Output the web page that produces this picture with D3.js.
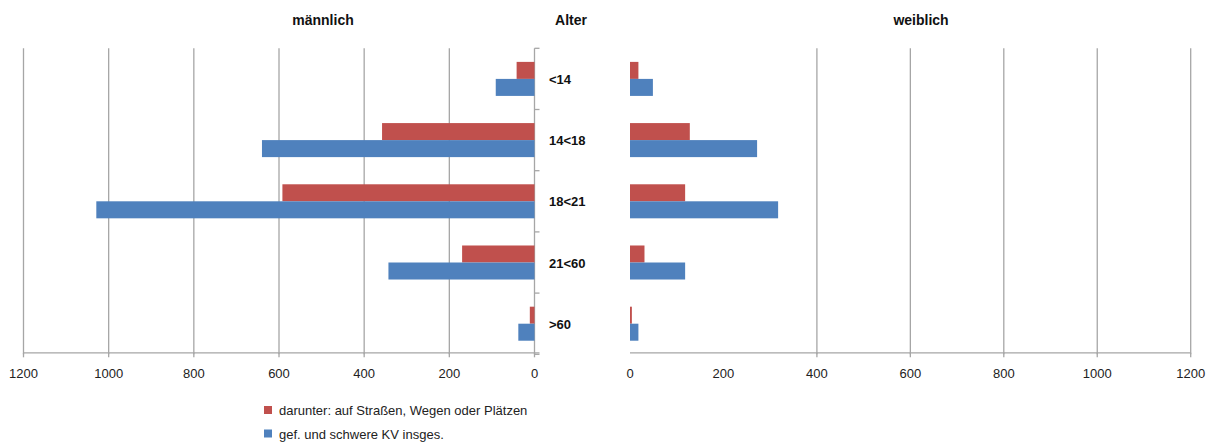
<!DOCTYPE html>
<html><head><meta charset="utf-8">
<script src="https://cdn.jsdelivr.net/npm/d3@7"></script>
<style>body{margin:0;background:#fff}svg{display:block;font-family:"Liberation Sans",Arial,sans-serif}</style>
</head><body><svg id="c" width="1214" height="443"></svg>
<script>
const categories = ["<14", "14<18", "18<21", "21<60", ">60"];
const seriesNames = ["darunter: auf Straßen, Wegen oder Plätzen", "gef. und schwere KV insges."];
const maleStreet = [42, 358, 592, 170, 11];
const maleTotal = [91, 640, 1029, 343, 38];
const femaleStreet = [18, 128, 118, 31, 4];
const femaleTotal = [49, 272, 317, 118, 18];
const tickValues = [0, 200, 400, 600, 800, 1000, 1200];
const colors = ["#C0504D", "#4F81BD"];

(function () {
const svg = d3.select("#c");
const plotTop = 48.3, plotBottom = 354.3;
const y = d3.scaleBand().domain(categories).range([plotTop, plotBottom]).paddingInner(0.444).paddingOuter(0.222);
const sub = d3.scaleBand().domain([0, 1]).range([0, y.bandwidth()]);
const xL = d3.scaleLinear().domain([1200, 0]).range([23.5, 534.5]);
const xR = d3.scaleLinear().domain([0, 1200]).range([630, 1190.7]);
const grid = "#a6a6a6";

// gridlines
svg.append("g").selectAll("line").data(tickValues.filter(v => v > 0)).join("line")
  .attr("x1", d => xL(d)).attr("x2", d => xL(d)).attr("y1", plotTop).attr("y2", plotBottom)
  .attr("stroke", grid).attr("stroke-width", 1.3);
svg.append("g").selectAll("line").data(tickValues.filter(v => v >= 400)).join("line")
  .attr("x1", d => xR(d)).attr("x2", d => xR(d)).attr("y1", plotTop).attr("y2", plotBottom)
  .attr("stroke", grid).attr("stroke-width", 1.3);

// left y axis line with ticks to the right
svg.append("line").attr("x1", xL(0)).attr("x2", xL(0)).attr("y1", plotTop).attr("y2", plotBottom)
  .attr("stroke", grid).attr("stroke-width", 1.3);
svg.append("g").selectAll("line").data(d3.range(categories.length + 1)).join("line")
  .attr("x1", xL(0)).attr("x2", xL(0) + 5)
  .attr("y1", i => plotTop + i * y.step()).attr("y2", i => plotTop + i * y.step())
  .attr("stroke", grid).attr("stroke-width", 1.3);

// bottom axes
function bottomAxis(scale, x0, x1, ticks) {
  const g = svg.append("g");
  g.append("line").attr("x1", x0).attr("x2", x1).attr("y1", plotBottom - 1.5).attr("y2", plotBottom - 1.5)
    .attr("stroke", grid).attr("stroke-width", 1.3);
  g.selectAll("line.t").data(ticks).join("line").attr("class", "t")
    .attr("x1", d => scale(d)).attr("x2", d => scale(d)).attr("y1", plotBottom - 1.5).attr("y2", plotBottom + 3)
    .attr("stroke", grid).attr("stroke-width", 1.3);
  g.selectAll("text").data(tickValues).join("text")
    .attr("x", d => scale(d)).attr("y", 378).attr("text-anchor", "middle")
    .attr("font-size", 13).attr("fill", "#222").text(d => d);
}
bottomAxis(xL, xL(1200), xL(0) + 5, tickValues);
bottomAxis(xR, xR(0), xR(1200), tickValues.filter(v => v >= 400));

// bars
function bars(scale, vals, s, left) {
  svg.append("g").selectAll("rect").data(vals).join("rect")
    .attr("x", d => left ? scale(d) : scale(0))
    .attr("width", d => Math.abs(scale(d) - scale(0)))
    .attr("y", (d, i) => y(categories[i]) + sub(s))
    .attr("height", sub.bandwidth())
    .attr("fill", colors[s]);
}
bars(xL, maleStreet, 0, true);
bars(xL, maleTotal, 1, true);
bars(xR, femaleStreet, 0, false);
bars(xR, femaleTotal, 1, false);

// category labels
svg.append("g").selectAll("text").data(categories).join("text")
  .attr("x", 549).attr("y", d => y(d) + y.bandwidth() / 2 + 5)
  .attr("font-size", 13).attr("font-weight", "bold").attr("fill", "#111").text(d => d);

// titles
const titles = [["männlich", 323], ["Alter", 571], ["weiblich", 921]];
svg.append("g").selectAll("text").data(titles).join("text")
  .attr("x", d => d[1]).attr("y", 25).attr("text-anchor", "middle")
  .attr("font-size", 14).attr("font-weight", "bold").attr("fill", "#111").text(d => d[0]);

// legend
const lg = svg.append("g").selectAll("g").data(seriesNames).join("g")
  .attr("transform", (d, i) => `translate(264,${406 + i * 23.5})`);
lg.append("rect").attr("width", 8).attr("height", 8).attr("fill", (d, i) => colors[i]);
lg.append("text").attr("x", 15).attr("y", 9).attr("font-size", 13).attr("fill", "#222").text(d => d);
})();
</script></body></html>
